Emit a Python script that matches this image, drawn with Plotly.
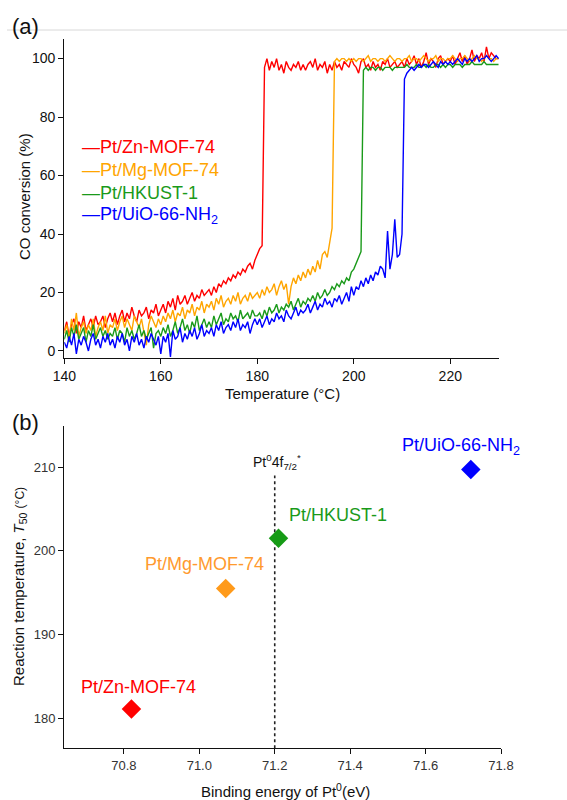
import numpy as np
import plotly.graph_objects as go

# ---------------- Panel (a) data: CO conversion vs temperature ----------------
temp_start, temp_step, temp_end = 140.0, 0.5, 230.0
temperature = np.arange(temp_start, temp_end + temp_step / 2, temp_step)

conv_zn = [
    7, 10, 5, 9, 11, 6, 10, 8, 12, 7, 9, 11, 8, 12, 9, 10, 12, 8, 11, 13,
    10, 13, 9, 12, 14, 10, 13, 11, 15, 12, 10, 14, 12, 13, 15, 11, 14, 13, 16, 12,
    14, 16, 13, 17, 15, 18, 14, 19, 16, 17, 19, 16, 18, 20, 17, 19, 18, 21, 19, 20,
    21, 19, 22, 20, 23, 22, 24, 23, 25, 24, 26, 25, 27, 26, 28, 27, 29, 30, 28, 31,
    33, 35, 36, 97, 100, 96, 99, 97, 100, 96, 98, 95, 99, 97, 96, 98, 97, 99, 96, 98,
    96, 98, 99, 97, 100, 96, 98, 97, 99, 95, 98, 96, 99, 97, 98, 96, 99, 98, 97, 100,
    98, 97, 95, 99, 100, 97, 98, 96, 99, 97, 98, 96, 99, 98, 100, 97, 98, 99, 97, 98,
    99, 97, 100, 98, 99, 101, 98, 100, 97, 99, 102, 98, 100, 99, 97, 100, 101, 98, 99, 100,
    99, 101, 98, 100, 102, 99, 101, 98, 100, 103, 99, 101, 100, 102, 99, 104, 100, 102, 101, 100,
    100,
]
conv_mg = [
    6, 9, 4, 11, 7, 13, 5, 8, 10, 6, 9, 7, 11, 5, 8, 10, 7, 12, 6, 9,
    8, 11, 7, 10, 12, 8, 11, 9, 7, 12, 10, 8, 11, 6, 2, 9, 12, 10, 8, 11,
    9, 12, 10, 13, 11, 14, 10, 13, 12, 15, 11, 14, 13, 16, 12, 15, 14, 17, 13, 16,
    15, 17, 14, 18, 16, 19, 15, 17, 18, 16, 19, 17, 20, 16, 18, 19, 17, 20, 18, 19,
    20, 18, 21, 19, 22, 20, 21, 23, 19, 22, 24, 21, 23, 16, 22, 25, 23, 26, 24, 27,
    25, 28, 26, 29, 27, 31, 28, 33, 34, 32, 37, 42, 99, 100, 99, 100, 100, 99, 100, 99,
    100, 99, 100, 100, 99, 100, 101, 99, 100, 100, 99, 100, 100, 99, 100, 101, 100, 99, 100, 100,
    99, 100, 100, 101, 99, 100, 100, 99, 100, 101, 100, 99, 100, 100, 101, 99, 100, 100, 99, 100,
    100, 101, 100, 99, 100, 100, 101, 100, 99, 100, 101, 100, 100, 99, 100, 101, 100, 100, 99, 100,
    100,
]
conv_hkust = [
    4, 7, 3, 8, 5, 9, 4, 6, 8, 3, 7, 5, 9, 4, 6, 8, 5, 7, 4, 6,
    5, 8, 4, 7, 6, 3, 8, 5, 7, 4, 6, 9, 5, 7, 4, 6, 8, 1, 6, 7,
    5, 8, 6, 9, 5, 7, 10, 6, 8, 11, 7, 9, 6, 10, 8, 12, 7, 9, 11, 8,
    10, 8, 12, 9, 11, 13, 9, 11, 10, 13, 11, 12, 10, 14, 11, 12, 13, 11, 14, 12,
    12, 13, 11, 14, 12, 15, 13, 14, 16, 13, 15, 14, 16, 15, 17, 14, 16, 18, 15, 17,
    16, 18, 17, 19, 17, 20, 18, 19, 21, 19, 20, 22, 21, 23, 22, 24, 23, 25, 24, 27,
    28, 30, 32, 34, 96, 97, 96, 97, 97, 96, 97, 97, 96, 97, 97, 97, 96, 97, 97, 97,
    97, 97, 98, 97, 97, 97, 98, 97, 97, 98, 97, 98, 97, 97, 98, 98, 97, 98, 97, 98,
    98, 97, 98, 98, 98, 97, 98, 98, 98, 99, 98, 98, 98, 98, 99, 98, 98, 98, 98, 98,
    98,
]
conv_uio = [
    3, 1, 5, 2, 6, -1, 4, 2, 5, 3, 0, 4, 6, 2, 4, 1, 5, 3, 6, 2,
    4, 1, 5, 3, 6, 2, 4, 0, 5, 3, 6, 2, 4, 1, 5, 3, 6, 4, 2, 5,
    -1, 5, 3, 6, -2, 7, 4, 5, 8, 3, 6, 4, 7, 5, 8, 4, 6, 9, 5, 7,
    6, 8, 5, 9, 7, 10, 6, 8, 9, 7, 10, 8, 11, 7, 9, 8, 10, 6, 9, 11,
    9, 11, 8, 10, 12, 9, 11, 10, 13, 11, 12, 10, 14, 12, 11, 13, 15, 12, 14, 13,
    14, 16, 13, 15, 17, 14, 16, 15, 18, 16, 17, 15, 18, 17, 19, 16, 18, 20, 17, 22,
    19, 22, 21, 24, 22, 25, 23, 26, 24, 27, 26, 29, 28, 25, 41, 28, 33, 45, 32, 33,
    40, 93, 95, 96, 97, 96, 97, 98, 97, 98, 98, 97, 98, 99, 98, 97, 99, 98, 99, 98,
    99, 98, 99, 100, 99, 98, 100, 99, 100, 99, 100, 101, 99, 100, 100, 101, 100, 99, 100, 101,
    100,
]

series_names = ["Pt/Zn-MOF-74", "Pt/Mg-MOF-74", "Pt/HKUST-1", "Pt/UiO-66-NH<sub>2</sub>"]
series_values = [conv_zn, conv_mg, conv_hkust, conv_uio]
line_colors = ["#ff0000", "#ffa500", "#1a9a1a", "#0000ff"]

# ---------------- Panel (b) data: T50 vs Pt0 binding energy ----------------
binding_energy = [70.82, 71.07, 71.21, 71.72]
t50 = [181.1, 195.5, 201.5, 209.7]
marker_colors = ["#ff0000", "#ff9a1a", "#169b16", "#0000ff"]
label_colors = ["#ff0000", "#ff9a2e", "#1a9a1a", "#0000ff"]
label_x = [70.681, 70.850, 71.232, 71.532]
label_y = [183.7, 198.4, 204.3, 212.4]
ref_energy = 71.2

FONT = "Liberation Sans, Arial, sans-serif"
W, H = 567, 800


def px(x):
    return x / W


def py(y):
    return 1 - y / H


fig = go.Figure()

for name, vals, col in zip(series_names, series_values, line_colors):
    fig.add_trace(go.Scatter(
        x=temperature, y=vals, mode="lines", name=name,
        line=dict(color=col, width=1.4), showlegend=False,
        xaxis="x", yaxis="y",
    ))

# dotted reference line at Pt0 4f7/2
fig.add_trace(go.Scatter(
    x=[ref_energy, ref_energy], y=[176.42, 209.0], mode="lines",
    line=dict(color="#222222", width=1.6, dash="dot"), showlegend=False,
    xaxis="x2", yaxis="y2",
))

fig.add_trace(go.Scatter(
    x=binding_energy, y=t50, mode="markers",
    marker=dict(symbol="diamond", size=15, color=marker_colors, line=dict(width=0)),
    showlegend=False, xaxis="x2", yaxis="y2",
))

annotations = []
# legend of panel (a) as colored text
legend_y = [py(147), py(170), py(193), py(215)]
for name, col, ly in zip(series_names, line_colors, legend_y):
    annotations.append(dict(
        xref="paper", yref="paper", x=px(80), y=ly, xanchor="left", yanchor="middle",
        text="—" + name, showarrow=False,
        font=dict(family=FONT, size=18, color=col),
    ))

# point labels of panel (b)
sample_labels = ["Pt/Zn-MOF-74", "Pt/Mg-MOF-74", "Pt/HKUST-1", "Pt/UiO-66-NH<sub>2</sub>"]
for txt, lx, ly, col in zip(sample_labels, label_x, label_y, label_colors):
    annotations.append(dict(
        xref="x2", yref="y2", x=lx, y=ly, xanchor="left", yanchor="middle",
        text=txt, showarrow=False, font=dict(family=FONT, size=18, color=col),
    ))

annotations.append(dict(
    xref="x2", yref="y2", x=71.137, y=210.6, xanchor="left", yanchor="middle",
    text="Pt<sup>0</sup>4f<sub>7/2</sub><sup>*</sup>", showarrow=False,
    font=dict(family=FONT, size=14, color="#111111"),
))

# axis titles
title_font = dict(family=FONT, size=15, color="#111111")
annotations += [
    dict(xref="paper", yref="paper", x=px(282), y=py(394), xanchor="center", yanchor="middle",
         text="Temperature (°C)", showarrow=False, font=title_font),
    dict(xref="paper", yref="paper", x=px(25), y=py(197), xanchor="center", yanchor="middle",
         text="CO conversion (%)", showarrow=False, textangle=-90, font=title_font),
    dict(xref="paper", yref="paper", x=px(285), y=py(790), xanchor="center", yanchor="middle",
         text="Binding energy of Pt<sup>0</sup>(eV)", showarrow=False, font=title_font),
    dict(xref="paper", yref="paper", x=px(19), y=py(587), xanchor="center", yanchor="middle",
         text="Reaction temperature, <i>T</i><sub>50</sub> <span style='font-size:12px'>(°C)</span>",
         showarrow=False, textangle=-90, font=title_font),
]

# panel letters
annotations.append(dict(xref="paper", yref="paper", x=px(10), y=py(27),
                        xanchor="left", yanchor="middle", text="(a)", showarrow=False,
                        font=dict(family=FONT, size=22, color="#111111")))
annotations.append(dict(xref="paper", yref="paper", x=px(10), y=py(422),
                        xanchor="left", yanchor="middle", text="(b)", showarrow=False,
                        font=dict(family=FONT, size=22, color="#111111")))

axis_common = dict(
    showline=True, linecolor="#111111", linewidth=1.3, ticks="outside", ticklen=5,
    tickwidth=1.3, tickcolor="#111111", showgrid=False, zeroline=False, mirror=False,
    automargin=False,
)

fig.update_layout(
    width=W, height=H,
    margin=dict(l=0, r=0, t=0, b=0, autoexpand=False),
    paper_bgcolor="white", plot_bgcolor="white",
    font=dict(family=FONT, color="#111111"),
    xaxis=dict(
        **axis_common, domain=[px(64.3), px(499)], anchor="y",
        range=[140, 230.1], tickvals=[140, 160, 180, 200, 220],
        tickfont=dict(size=14, color="#111111"),
    ),
    yaxis=dict(
        **axis_common, domain=[py(358), py(39)], anchor="x",
        range=[-2.4, 106.7], tickvals=[0, 20, 40, 60, 80, 100],
        tickfont=dict(size=14, color="#111111"),
    ),
    xaxis2=dict(
        **axis_common, domain=[px(64.3), px(501)], anchor="y2",
        range=[70.642, 71.8], tickvals=[70.8, 71.0, 71.2, 71.4, 71.6, 71.8],
        ticktext=["70.8", "71.0", "71.2", "71.4", "71.6", "71.8"],
        tickfont=dict(size=13, color="#333333"),
    ),
    yaxis2=dict(
        **axis_common, domain=[py(748.3), py(426)], anchor="x2",
        range=[176.42, 214.9], tickvals=[180, 190, 200, 210],
        tickfont=dict(size=13, color="#333333"),
    ),
    annotations=annotations,
    shapes=[dict(type="line", xref="paper", yref="paper", x0=px(7), x1=1,
                 y0=py(30), y1=py(30), line=dict(color="#d8d8d8", width=1))],
)

fig.write_html(
    "out.html",
    config={"displayModeBar": False},
    post_script="document.body.style.margin='0';document.body.style.overflow='hidden';",
)
